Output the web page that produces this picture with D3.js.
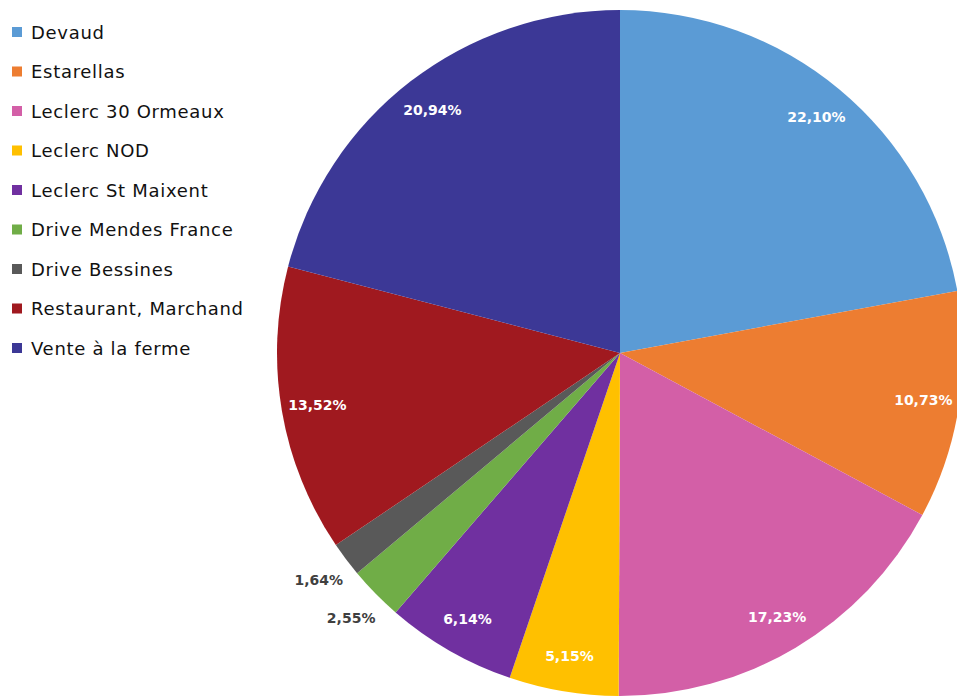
<!DOCTYPE html>
<html><head><meta charset="utf-8">
<script src="https://cdn.jsdelivr.net/npm/d3@7"></script>
<style>body{margin:0;background:#fff}svg{display:block}</style>
</head><body>
<svg id="c" width="957" height="699"></svg>
<script>
const categories = ["Devaud","Estarellas","Leclerc 30 Ormeaux","Leclerc NOD","Leclerc St Maixent","Drive Mendes France","Drive Bessines","Restaurant, Marchand","Vente à la ferme"];
const values = [22.10,10.73,17.23,5.15,6.14,2.55,1.64,13.52,20.94];
const labels = ["22,10%","10,73%","17,23%","5,15%","6,14%","2,55%","1,64%","13,52%","20,94%"];
const colors = ["#5B9BD5","#ED7D31","#D35FA7","#FFC000","#7030A0","#70AD47","#595959","#A0191F","#3C3896"];

const svg = d3.select("#c");
const cx = 620, cy = 353, R = 343;
const g = svg.append("g").attr("transform", `translate(${cx},${cy})`);
const pie = d3.pie().sort(null).value(d => d);
const arcs = pie(values);
const arc = d3.arc().innerRadius(0).outerRadius(R);
g.selectAll("path").data(arcs).join("path")
  .attr("d", arc).attr("fill", (d,i) => colors[i]);

const inArc = d3.arc().innerRadius(R*0.895).outerRadius(R*0.895);
const outArc = d3.arc().innerRadius(R*1.1).outerRadius(R*1.1);
g.selectAll("text.lbl").data(arcs).join("text")
  .attr("class","lbl")
  .each(function(d,i){
    const small = d.value < 3;
    const p = (small ? outArc : inArc).centroid(d);
    d3.select(this).attr("x", p[0]).attr("y", p[1])
      .attr("fill", small ? "#404040" : "#ffffff");
  })
  .attr("text-anchor","middle").attr("dominant-baseline","central")
  .attr("font-family","DejaVu Sans").attr("font-weight","bold")
  .attr("font-size", 14).text((d,i) => labels[i]);

const leg = svg.append("g");
const y = d3.scalePoint().domain(categories).range([32, 348]);
const items = leg.selectAll("g").data(categories).join("g")
  .attr("transform", d => `translate(0,${y(d)})`);
items.append("rect").attr("x", 12).attr("y", -5).attr("width", 10).attr("height", 10)
  .attr("fill", (d,i) => colors[i]);
items.append("text").attr("x", 31).attr("y", 0).attr("dominant-baseline","central")
  .attr("font-family","DejaVu Sans").attr("font-size", 18).attr("letter-spacing", 0.7)
  .attr("fill","#111")
  .text(d => d);
</script>
</body></html>
